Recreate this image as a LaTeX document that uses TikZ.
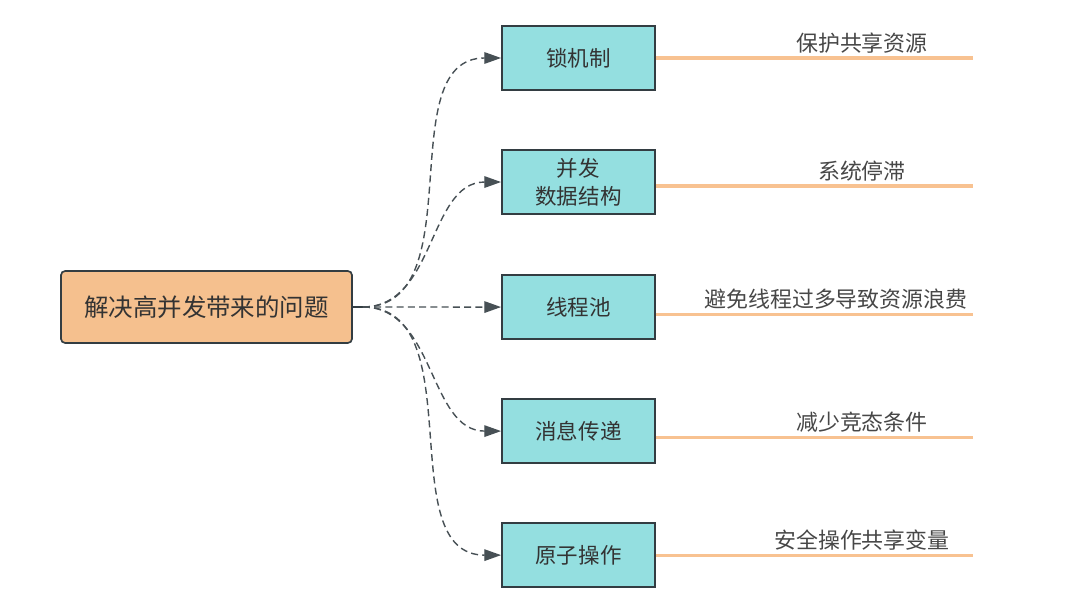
\documentclass[tikz,border=0pt]{standalone}
\usepackage{fontspec}
\setmainfont{Noto Sans CJK SC}
\usetikzlibrary{positioning,arrows.meta}
\definecolor{rootfill}{HTML}{F5C08E}
\definecolor{topicfill}{HTML}{94DFE0}
\definecolor{boxline}{HTML}{333D42}
\definecolor{reasonline}{HTML}{F8C291}
\definecolor{txt}{HTML}{333333}

\begin{document}
\begin{tikzpicture}[x=0.025cm,y=-0.025cm,node distance=3.1cm,on grid,
    root/.style={draw=boxline,fill=rootfill,rounded corners=3pt,line width=1.2pt,minimum width=7.275cm,minimum height=1.8cm,font=\fontsize{17.4}{20}\selectfont,text=txt},
    topic/.style={draw=boxline,fill=topicfill,line width=1.3pt,minimum width=3.825cm,minimum height=1.6cm,align=center,font=\fontsize{15.3}{20}\selectfont,text=txt},
    link/.style={draw=boxline!90,line width=1pt,dash pattern=on 5pt off 3pt,-{Triangle[length=4.2mm,width=2.9mm]},out=0,in=180},
    reason/.style={draw=reasonline,line width=2.2pt},
    why/.style={above=1pt,inner sep=1pt,text=txt!90,font=\fontsize{15.6}{18}\selectfont}]
    \useasboundingbox (0,0) rectangle (1080,615);
    \node[root] (root) at (206.5,307) {解决高并发带来的问题};
    \node[topic] (c_1) at (578.5,58) {锁机制};
    \node[topic] (c_2) [below=of c_1] {并发\\数据结构};
    \node[topic] (c_3) [below=3.125cm of c_2] {线程池};
    \node[topic] (c_4) [below=of c_3] {消息传递};
    \node[topic] (c_5) [below=of c_4] {原子操作};
    \coordinate (hub) at ([xshift=0.25cm]root.east);
    \draw[draw=boxline,line width=1.2pt] (root.east) -- (hub);
    \path (hub) edge[link] (c_1)
        edge[link] (c_2)
        edge[link] (c_3)
        edge[link] (c_4)
        edge[link] (c_5);
    \draw[reason] (c_1.east) -- ++(317,0) node[why,pos=0.65] {保护共享资源};
    \draw[reason] ([yshift=-0.1cm]c_2.east) -- ++(317,0) node[why,pos=0.65] {系统停滞};
    \draw[reason] ([yshift=-0.175cm]c_3.east) -- ++(317,0) node[why,pos=0.568] {避免线程过多导致资源浪费};
    \draw[reason] ([yshift=-0.15cm]c_4.east) -- ++(317,0) node[why,pos=0.65] {减少竞态条件};
    \draw[reason] (c_5.east) -- ++(317,0) node[why,pos=0.65] {安全操作共享变量};
\end{tikzpicture}
\end{document}
